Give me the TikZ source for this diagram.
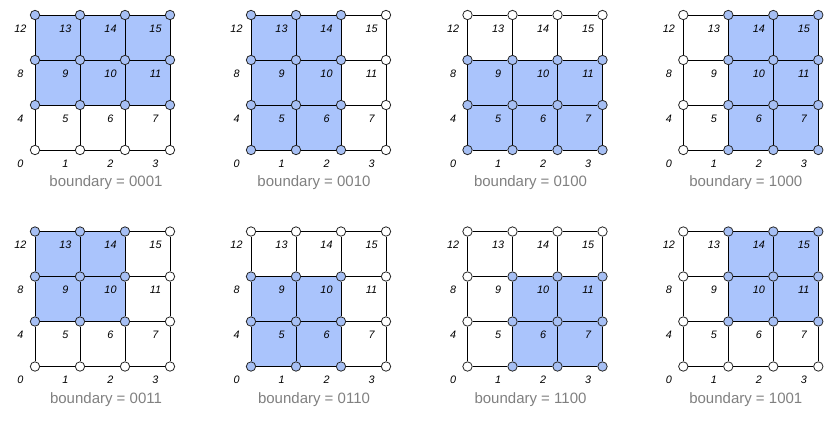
\documentclass[tikz,border=0pt]{standalone}
\usepackage{fontspec}
\setmainfont{Liberation Sans}
\usetikzlibrary{backgrounds}
\definecolor{cellblue}{HTML}{AAC4FC}
\definecolor{nodeblue}{HTML}{A6BFF4}
\definecolor{capgray}{HTML}{808080}
\tikzset{
 vtx/.style={circle,draw=black!85,line width=0.8pt,minimum size=9.4pt,inner sep=0pt},
 lbl/.style={font=\fontsize{10.8}{12}\selectfont\itshape,inner sep=0pt},
 captext/.style={font=\fontsize{15}{18}\selectfont,text=capgray,inner sep=0pt},
 gridline/.style={line width=0.9pt,black},
 thickline/.style={line width=1.9pt,black}
}
\newcommand{\gpanel}[7]{%
 \foreach \r in {0,...,3}{\foreach \c in {0,...,3}{%
  \pgfmathtruncatemacro\k{4*\r+\c}%
  \def\fc{nodeblue}%
  \ifnum\c<#2 \def\fc{white}\fi
  \ifnum\c>#3 \def\fc{white}\fi
  \ifnum\r<#4 \def\fc{white}\fi
  \ifnum\r>#5 \def\fc{white}\fi
  \node[vtx,fill=\fc] (#1n\k) at ({45*\c},{135-45*\r}) {};
  \node[lbl] (#1l\k) at ({45*\c-14.5},{148.5-45*\r}) {\k};
 }}%
 \pgfmathtruncatemacro\ka{4*#4+#2}%
 \pgfmathtruncatemacro\kb{4*#5+#3}%
 \begin{pgfonlayer}{background}
  \fill[cellblue] (#1n\ka.center) rectangle (#1n\kb.center);
 \end{pgfonlayer}
 \foreach \r in {0,...,3}{\foreach \c in {0,1,2}{%
  \pgfmathtruncatemacro\k{4*\r+\c}\pgfmathtruncatemacro\kk{\k+1}%
  \draw[gridline] (#1n\k) -- (#1n\kk);
 }}%
 \foreach \r in {0,1,2}{\foreach \c in {0,...,3}{%
  \pgfmathtruncatemacro\k{4*\r+\c}\pgfmathtruncatemacro\kk{\k+4}%
  \draw[gridline] (#1n\k) -- (#1n\kk);
 }}%
 \node[captext] (#1cap) at (#7,168) {#6};
}
\begin{document}
\begin{tikzpicture}[x=1pt,y=-1pt]
\useasboundingbox (0,0) rectangle (834,424);
\begin{scope}[shift={(35,15)}]\gpanel{A}{0}{3}{1}{3}{boundary = 0001}{71}\end{scope}
\begin{scope}[shift={(251,15)}]\gpanel{B}{0}{2}{0}{3}{boundary = 0010}{63}\end{scope}
\begin{scope}[shift={(467.5,15)}]\gpanel{C}{0}{3}{0}{2}{boundary = 0100}{63}\end{scope}
\begin{scope}[shift={(683.3,15)}]\gpanel{D}{1}{3}{0}{3}{boundary = 1000}{62.5}\end{scope}
\begin{scope}[shift={(35,231.5)}]\gpanel{E}{0}{2}{1}{3}{boundary = 0011}{71}\end{scope}
\begin{scope}[shift={(251,231.5)}]\gpanel{F}{0}{2}{0}{2}{boundary = 0110}{63}\end{scope}
\begin{scope}[shift={(467.5,231.5)}]\gpanel{G}{1}{3}{0}{2}{boundary = 1100}{63}
 \draw[thickline] (Gn9) -- (Gn10); \draw[thickline] (Gn10) -- (Gn11);
 \draw[thickline] (Gn1) -- (Gn2); \draw[thickline] (Gn2) -- (Gn3);
\end{scope}
\begin{scope}[shift={(683.3,231.5)}]\gpanel{H}{1}{3}{1}{3}{boundary = 1001}{62.5}
 \draw[thickline] (Hn13) -- (Hn14); \draw[thickline] (Hn14) -- (Hn15);
 \draw[thickline] (Hn5) -- (Hn6); \draw[thickline] (Hn6) -- (Hn7);
\end{scope}
\end{tikzpicture}
\end{document}
